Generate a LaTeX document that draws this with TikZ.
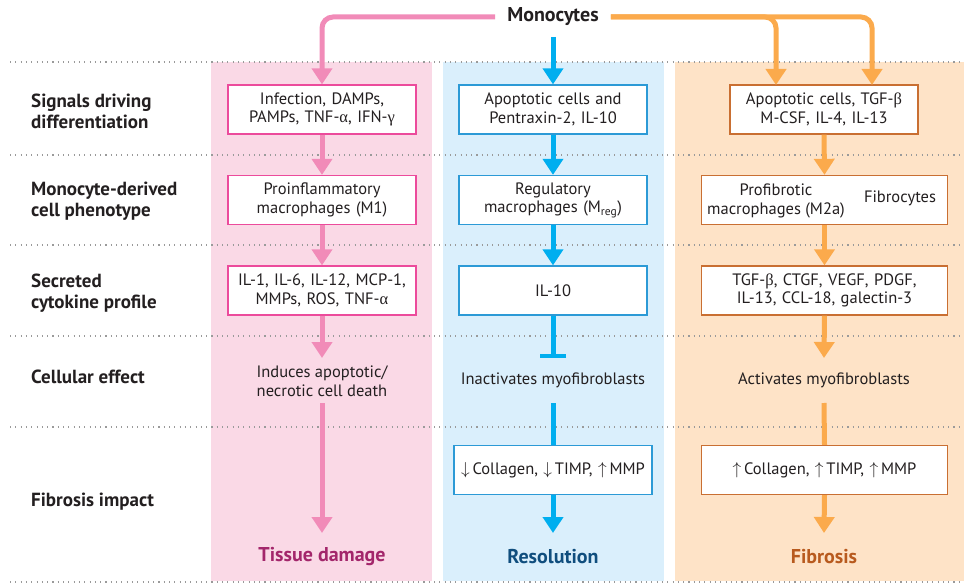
\documentclass[tikz,border=0pt]{standalone}
\usepackage{fontspec}
\setmainfont{PT Sans}
\newfontfamily\grk{Liberation Serif}
\usetikzlibrary{arrows.meta}
\definecolor{pinkbg}{HTML}{FAD9E6}
\definecolor{bluebg}{HTML}{DAEFFC}
\definecolor{orbg}{HTML}{FEE3C7}
\definecolor{pinkar}{HTML}{F18BB8}
\definecolor{bluear}{HTML}{00AEEF}
\definecolor{orar}{HTML}{FBAA4C}
\definecolor{pinkbd}{HTML}{EC4B9C}
\definecolor{bluebd}{HTML}{2C9AD6}
\definecolor{orbd}{HTML}{C96F32}
\definecolor{pinktx}{HTML}{A3266B}
\definecolor{bluetx}{HTML}{104E7E}
\definecolor{ortx}{HTML}{B85A1E}
\definecolor{txt}{HTML}{231F20}
\definecolor{dotc}{HTML}{9A9A9A}
\begin{document}
\begin{tikzpicture}[x=1pt,y=-1pt,
  box/.style={draw, fill=white, line width=1.3pt, minimum height=49pt, text width=#1, align=center, inner xsep=0pt, inner ysep=0pt, font=\fontsize{16.5}{18.5}\selectfont, text=txt},
  plain/.style={align=center, inner sep=0pt, font=\fontsize{16.5}{18.5}\selectfont, text=txt},
  rowlab/.style={anchor=west, align=left, inner sep=0pt, font=\fontsize{19}{21}\selectfont\bfseries, text=txt},
  endlab/.style={inner sep=0pt, font=\fontsize{20}{22}\selectfont\bfseries},
  conn/.style={line width=5pt, -{Triangle[width=20pt,length=16pt]}},
  link/.style={line width=5pt},
  dotline/.style={dotc, line width=1.1pt, dash pattern=on 1.1pt off 4.2pt}]
\useasboundingbox (0,0) rectangle (964,583);
% column backgrounds
\fill[pinkbg] (211,62) rectangle (432,581);
\fill[bluebg] (443,62) rectangle (664,581);
\fill[orbg] (675,62) rectangle (964,581);
% dotted separators
\foreach \yy in {62,155,245,336,427,582} \draw[dotline] (10,\yy) -- (964,\yy);
% row labels
\node[rowlab] (r1) at (31,111) {Signals driving\\differentiation};
\node[rowlab] (r2) at (31,201) {Monocyte-derived\\cell phenotype};
\node[rowlab] (r3) at (31,293) {Secreted\\cytokine profile};
\node[rowlab] (r4) at (31,377) {Cellular effect};
\node[rowlab] (r5) at (31,502) {Fibrosis impact};
% top
\node[inner xsep=12pt, inner ysep=0pt, font=\fontsize{20}{22}\selectfont\bfseries, text=txt] (mono) at (553,17) {Monocytes};
% pink column
\node[box=188pt, draw=pinkbd] (p1) at (322,109.5) {Infection, DAMPs,\\PAMPs, TNF-{\grk α}, IFN-{\grk γ}};
\node[box=188pt, draw=pinkbd] (p2) at (322,200) {Proinflammatory\\macrophages (M1)};
\node[box=188pt, draw=pinkbd] (p3) at (322,290.5) {IL-1, IL-6, IL-12, MCP-1,\\MMPs, ROS, TNF-{\grk α}};
\node[plain] (p4) at (322,381) {Induces apoptotic/\\necrotic cell death};
\node[endlab, text=pinktx] (p5) at (322,557) {Tissue damage};
\coordinate (pa) at (322,358);
\coordinate (pb) at (322,403);
\coordinate (pc) at (322,533);
% blue column
\node[box=188pt, draw=bluebd] (b1) at (553,109.5) {Apoptotic cells and\\Pentraxin-2, IL-10};
\node[box=188pt, draw=bluebd] (b2) at (553,200) {Regulatory\\macrophages (M\textsubscript{reg})};
\node[box=188pt, draw=bluebd] (b3) at (553,290.5) {IL-10};
\node[plain] (b4) at (553,380) {Inactivates myofibroblasts};
\node[box=198pt, draw=bluebd] (b5) at (553,470) {$\downarrow$\,Collagen, $\downarrow$\,TIMP, $\uparrow$\,MMP};
\node[endlab, text=bluetx] (b6) at (553,557) {Resolution};
\coordinate (bs) at (553,37);
\coordinate (ba) at (553,358);
\coordinate (bb) at (553,403);
\coordinate (bc) at (553,533);
% orange column
\node[box=188pt, draw=orbd] (o1) at (824,109.5) {Apoptotic cells, TGF-{\grk β}\\M-CSF, IL-4, IL-13};
\node[box=246pt, draw=orbd] (o2) at (824.5,200) {};
\node[plain] (o2a) at (776,201) {Profibrotic\\macrophages (M2a)};
\node[plain] (o2b) at (900,198) {Fibrocytes};
\node[box=246pt, draw=orbd] (o3) at (824.5,290.5) {TGF-{\grk β}, CTGF, VEGF, PDGF,\\IL-13, CCL-18, galectin-3};
\node[plain] (o4) at (824,380) {Activates myofibroblasts};
\node[box=246pt, draw=orbd] (o5) at (824.5,470) {$\uparrow$\,Collagen, $\uparrow$\,TIMP, $\uparrow$\,MMP};
\node[endlab, text=ortx] (o6) at (824,557) {Fibrosis};
\coordinate (oa1) at (776,85);
\coordinate (oa2) at (872,85);
\coordinate (oa) at (824,358);
\coordinate (ob) at (824,403);
\coordinate (oc) at (824,533);
% monocyte connectors
\draw[conn, pinkar, rounded corners=11pt] (mono.west) -| (p1.north);
\draw[conn, bluear] (bs) -- (b1.north);
\draw[conn, orar, rounded corners=11pt] (mono.east) -| (oa2);
\draw[conn, orar, rounded corners=11pt] (mono.east) -| (oa1);
% pink flow
\draw[conn, pinkar] (p1.south) -- (p2.north);
\draw[conn, pinkar] (p2.south) -- (p3.north);
\draw[conn, pinkar] (p3.south) -- (pa);
\draw[conn, pinkar] (pb) -- (pc);
% blue flow
\draw[conn, bluear] (b1.south) -- (b2.north);
\draw[conn, bluear] (b2.south) -- (b3.north);
\draw[link, bluear, -{Bar[width=26pt,line width=4pt]}] (b3.south) -- (ba);
\draw[link, bluear] (bb) -- (b5.north);
\draw[conn, bluear] (b5.south) -- (bc);
% orange flow
\draw[conn, orar] (o1.south) -- (o2.north);
\draw[conn, orar] (o2.south) -- (o3.north);
\draw[conn, orar] (o3.south) -- (oa);
\draw[link, orar] (ob) -- (o5.north);
\draw[conn, orar] (o5.south) -- (oc);
\end{tikzpicture}
\end{document}
